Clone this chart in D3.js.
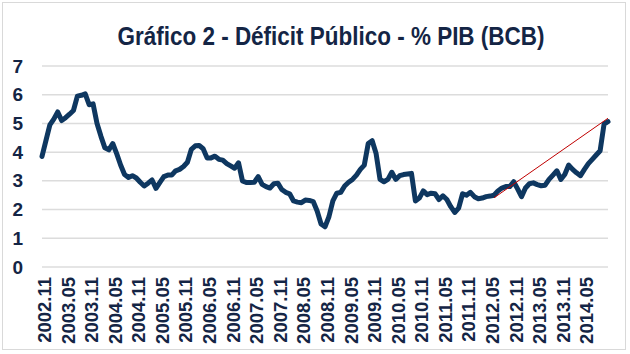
<!DOCTYPE html>
<html lang="en">
  <head>
    <meta charset="utf-8">
    <title>Gráfico 2 - Déficit Público - % PIB (BCB)</title>
    <script src="https://cdn.jsdelivr.net/npm/d3@7"></script>
    <style>
      body { margin: 0; background: #fff; }
      text { font-family: "Liberation Sans", Arial, sans-serif; font-weight: bold; }
    </style>
  </head>
  <body>
    <script type="text/javascript">
      // monthly data, 2002.11 .. 2014.11
      var firstYear = 2002, firstMonth = 11;
      var deficit = [
        3.85, 4.4, 4.95, 5.15, 5.4, 5.1, 5.2, 5.32, 5.45, 5.95,
        5.98, 6.03, 5.65, 5.68, 5.0, 4.55, 4.15, 4.08, 4.3, 3.95,
        3.55, 3.22, 3.12, 3.18, 3.1, 2.95, 2.82, 2.92, 3.03, 2.74,
        2.95, 3.15, 3.2, 3.2, 3.35, 3.4, 3.5, 3.65, 4.1, 4.22,
        4.23, 4.12, 3.8, 3.8, 3.86, 3.75, 3.72, 3.6, 3.52, 3.44,
        3.63, 3.0, 2.94, 2.94, 2.95, 3.15, 2.88, 2.8, 2.75, 2.9,
        2.92, 2.7, 2.6, 2.55, 2.3, 2.26, 2.24, 2.33, 2.32, 2.28,
        1.95, 1.5, 1.4, 1.75, 2.3, 2.57, 2.6, 2.82, 2.95, 3.05,
        3.2, 3.4, 3.55, 4.3, 4.4, 3.95, 3.05, 2.97, 3.05, 3.3,
        3.05, 3.18, 3.22, 3.24, 3.26, 2.3, 2.4, 2.65, 2.52, 2.57,
        2.55, 2.35, 2.48, 2.35, 2.1, 1.9, 2.05, 2.55, 2.5, 2.6,
        2.45, 2.38, 2.4, 2.45, 2.47, 2.5, 2.65, 2.75, 2.8, 2.8,
        2.97, 2.72, 2.45, 2.75, 2.9, 2.93, 2.87, 2.83, 2.85, 3.05,
        3.2, 3.35, 3.05, 3.22, 3.55, 3.4, 3.28, 3.18, 3.4, 3.6,
        3.75, 3.9, 4.05, 4.98, 5.06
      ];
      var tickLabels = ["2002.11","2003.05","2003.11","2004.05","2004.11","2005.05",
        "2005.11","2006.05","2006.11","2007.05","2007.11","2008.05","2008.11",
        "2009.05","2009.11","2010.05","2010.11","2011.05","2011.11","2012.05",
        "2012.11","2013.05","2013.11","2014.05"];
      var yTicks = [0, 1, 2, 3, 4, 5, 6, 7];
      // hand-drawn red trend line
      var trendMonths = ["2012.06", "2014.11"];
      var trendValues = [2.41, 5.18];

      var months = deficit.map(function(d, i) {
        var m = firstMonth - 1 + i;
        var y = firstYear + Math.floor(m / 12);
        var mm = (m % 12) + 1;
        return y + "." + (mm < 10 ? "0" + mm : mm);
      });
      var data = months.map(function(m, i) { return {month: m, value: deficit[i]}; });

      var w = 630, h = 354;
      var plotLeft = 42, plotRight = 608, plotTop = 66, plotBottom = 267;

      var svg = d3.select("body").append("svg")
        .attr("width", w)
        .attr("height", h);

      svg.append("rect")
        .attr("x", 2.5).attr("y", 2.5)
        .attr("width", 623).attr("height", 347)
        .attr("fill", "#fff")
        .attr("stroke", "#d9d9d9");

      svg.append("text")
        .attr("x", 331).attr("y", 45)
        .attr("text-anchor", "middle")
        .attr("font-size", 26)
        .attr("textLength", 427)
        .attr("lengthAdjust", "spacingAndGlyphs")
        .attr("fill", "#142545")
        .text("Gráfico 2 - Déficit Público - % PIB (BCB)");

      var xScale = d3.scalePoint()
        .domain(months)
        .range([plotLeft, plotRight]);
      var yScale = d3.scaleLinear()
        .domain([0, 7])
        .range([plotBottom, plotTop]);

      // grid
      svg.append("g").selectAll("line")
        .data(yTicks)
        .enter().append("line")
        .attr("x1", plotLeft).attr("x2", plotRight)
        .attr("y1", function(d) { return yScale(d); })
        .attr("y2", function(d) { return yScale(d); })
        .attr("stroke", "#dcdcdc")
        .attr("stroke-width", 1.5);

      var yAxis = d3.axisLeft(yScale)
        .tickValues(yTicks)
        .tickFormat(d3.format("d"))
        .tickSize(0).tickPadding(0);
      var gy = svg.append("g")
        .attr("transform", "translate(23,0)")
        .call(yAxis);
      gy.select(".domain").remove();
      gy.selectAll("text")
        .attr("font-size", 19)
        .attr("font-family", "Liberation Sans, Arial, sans-serif")
        .attr("font-weight", "bold")
        .attr("fill", "#142545");

      var xAxis = d3.axisBottom(xScale).tickValues(tickLabels).tickSize(0).tickPadding(0);
      var gx = svg.append("g")
        .attr("transform", "translate(2," + plotBottom + ")")
        .call(xAxis);
      gx.select(".domain").remove();
      gx.selectAll("text")
        .attr("font-size", 18.5)
        .attr("font-family", "Liberation Sans, Arial, sans-serif")
        .attr("font-weight", "bold")
        .attr("fill", "#142545")
        .attr("text-anchor", "end")
        .attr("transform", "rotate(-90)")
        .attr("x", -10)
        .attr("y", 0)
        .attr("dy", "0.35em");

      var line = d3.line()
        .x(function(d) { return xScale(d.month); })
        .y(function(d) { return yScale(d.value); });

      svg.append("path")
        .datum(data)
        .attr("d", line)
        .attr("fill", "none")
        .attr("stroke", "#0e3760")
        .attr("stroke-width", 5)
        .attr("stroke-linejoin", "round")
        .attr("stroke-linecap", "round");

      var trend = trendMonths.map(function(m, i) { return {month: m, value: trendValues[i]}; });
      svg.append("path")
        .datum(trend)
        .attr("d", line)
        .attr("fill", "none")
        .attr("stroke", "#c00000")
        .attr("stroke-width", 1);
    </script>
  </body>
</html>
